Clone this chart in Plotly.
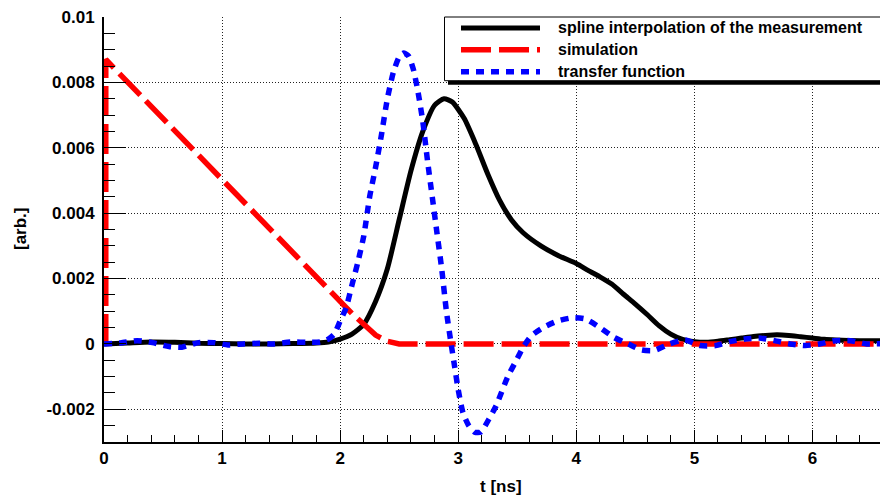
import plotly.graph_objects as go

# ---------------- data ----------------
t_meas = [0.0, 0.2, 0.4, 0.6, 0.8, 1.0, 1.2, 1.4, 1.6, 1.8, 1.9, 2.0, 2.1, 2.2, 2.3, 2.4,
          2.5, 2.6, 2.7, 2.8, 2.88, 2.95, 3.05, 3.15, 3.25, 3.35, 3.45, 3.55, 3.7, 3.85,
          4.0, 4.1, 4.2, 4.3, 4.4, 4.5, 4.6, 4.7, 4.8, 4.9, 5.0, 5.1, 5.2, 5.3, 5.4, 5.5,
          5.6, 5.7, 5.8, 5.9, 6.0, 6.1, 6.2, 6.4, 6.65]
v_meas = [0.0, 0.00003, 0.00006, 0.00005, 0.00002, 0.00001, 0.0, 0.0, 0.00001, 0.00003,
          0.00006, 0.00015, 0.0003, 0.0006, 0.0013, 0.0023, 0.0038, 0.0053, 0.0065, 0.0073,
          0.0075, 0.0074, 0.0069, 0.0061, 0.0052, 0.0044, 0.0038, 0.0034, 0.0030, 0.0027,
          0.00246, 0.00225, 0.00205, 0.00183, 0.00152, 0.00122, 0.0009, 0.00056, 0.0003,
          0.00014, 0.00007, 0.00005, 0.00008, 0.00013, 0.00018, 0.00023, 0.00026, 0.00028,
          0.00026, 0.00022, 0.00018, 0.00014, 0.00012, 0.0001, 0.0001]

t_sim = [0.015, 0.015, 2.1, 2.2, 2.3, 2.4, 2.5, 6.65]
v_sim = [0.0, 0.0087, 0.00093, 0.00058, 0.00027, 0.00008, 0.0, 0.0]

t_tf = [0.0, 0.14, 0.28, 0.41, 0.55, 0.66, 0.80, 0.93, 1.05, 1.18, 1.31, 1.44, 1.58, 1.71,
        1.83, 1.9, 1.95, 2.0, 2.05, 2.1, 2.15, 2.2, 2.25, 2.3, 2.35, 2.4, 2.45, 2.5, 2.54,
        2.58, 2.62, 2.66, 2.70, 2.74, 2.78, 2.82, 2.86, 2.90, 2.94, 2.97, 3.0, 3.04, 3.09,
        3.14, 3.19, 3.26, 3.32, 3.42, 3.5, 3.55, 3.62, 3.72, 3.84, 3.97, 4.08, 4.2, 4.32,
        4.44, 4.55, 4.66, 4.79, 4.92, 5.05, 5.18, 5.3, 5.43, 5.55, 5.68, 5.81, 5.94, 6.06,
        6.19, 6.32, 6.46, 6.65]
v_tf = [0.0, 0.00003, 0.0001, 0.00004, -0.00008, -0.0001, 0.00004, 0.00004, -0.00003, 0.0,
        0.00002, 0.0, 0.00006, 0.00005, 0.00006, 0.00015, 0.0003, 0.0007, 0.0011, 0.0018,
        0.0025, 0.0033, 0.0045, 0.0054, 0.0064, 0.0075, 0.0083, 0.00878, 0.0089, 0.0088,
        0.0084, 0.0077, 0.0068, 0.0056, 0.0045, 0.0034, 0.0023, 0.0010, 0.0, -0.0007,
        -0.0014, -0.0021, -0.0025, -0.0027, -0.0027, -0.0023, -0.0019, -0.001, -0.00045,
        -0.0001, 0.00025, 0.0005, 0.0007, 0.0008, 0.00076, 0.0005, 0.0002, 0.0, -0.00018,
        -0.0002, 0.0, 0.00012, -0.00005, -0.00005, 0.00007, 0.00015, 0.00018, 0.0001, 0.0,
        -0.00005, 0.0, 0.0001, 0.0001, 0.0, 0.00002]

y_tickvals = [-0.002, 0.0, 0.002, 0.004, 0.006, 0.008, 0.01]
y_ticktext = ["-0.002", "0", "0.002", "0.004", "0.006", "0.008", "0.01"]
x_tickvals = [0, 1, 2, 3, 4, 5, 6]
x_ticktext = ["0", "1", "2", "3", "4", "5", "6"]

names = ["spline interpolation of the measurement", "simulation", "transfer function"]
colors = ["#000000", "#ff0000", "#0000ff"]
dashes = ["solid", "30px,8px", "8px,7px"]
widths = [5, 5.5, 5.5]

FONT = "Liberation Sans, Arial, sans-serif"

fig = go.Figure()
fig.add_trace(go.Scatter(x=t_meas, y=v_meas, mode="lines", name=names[0], showlegend=False,
                         line=dict(color=colors[0], width=widths[0], dash=dashes[0],
                                   shape="spline", smoothing=0.6)))
fig.add_trace(go.Scatter(x=t_sim, y=v_sim, mode="lines", name=names[1], showlegend=False,
                         line=dict(color=colors[1], width=widths[1], dash=dashes[1])))
fig.add_trace(go.Scatter(x=t_tf, y=v_tf, mode="lines", name=names[2], showlegend=False,
                         line=dict(color=colors[2], width=widths[2], dash=dashes[2],
                                   shape="spline", smoothing=0.6)))

# page body has an 8px margin: the figure is drawn at offset (8, 8)
OFF = 8
W, H = 888 - OFF, 499 - OFF
L, R, T, B = 104 - OFF, 0, 15 - OFF, 57
pw, ph = W - L - R, H - T - B


def px(x_ref):
    return (x_ref - OFF - L) / pw


def py(y_ref):
    return (H - B - (y_ref - OFF)) / ph


# custom legend (ROOT style box with shadow)
shapes = [
    dict(type="rect", xref="paper", yref="paper", x0=px(448), x1=px(900), y0=py(83), y1=py(79),
         fillcolor="black", line=dict(width=0), layer="above"),
    dict(type="rect", xref="paper", yref="paper", x0=px(444.5), x1=px(900), y0=py(79), y1=py(15),
         fillcolor="white", line=dict(color="black", width=1), layer="above"),
]
row_y = [26, 48, 70]
annotations = []
for i in range(3):
    shapes.append(dict(type="line", xref="paper", yref="paper", x0=px(461), x1=px(540),
                       y0=py(row_y[i]), y1=py(row_y[i]), layer="above",
                       line=dict(color=colors[i], width=widths[i], dash=dashes[i])))
    annotations.append(dict(text=names[i], xref="paper", yref="paper", x=px(556), y=py(row_y[i]),
                            xanchor="left", yanchor="middle", showarrow=False,
                            font=dict(family=FONT, size=16, color="black", weight="bold")))

annotations.append(dict(text="t [ns]", xref="paper", yref="paper", x=px(500.5), y=py(487),
                        xanchor="center", yanchor="middle", showarrow=False,
                        font=dict(family=FONT, size=17, color="black", weight="bold")))
annotations.append(dict(text="[arb.]", xref="paper", yref="paper", x=px(20), y=py(228),
                        xanchor="center", yanchor="middle", showarrow=False, textangle=-90,
                        font=dict(family=FONT, size=17, color="black", weight="bold")))

axis_common = dict(
    showline=True, linecolor="black", linewidth=2, mirror=False,
    ticks="inside", tickcolor="black", tickwidth=1,
    showgrid=True, gridcolor="#222222", gridwidth=1, griddash="1px,2px",
    zeroline=False, tickmode="array", ticklabeloverflow="allow",
    tickfont=dict(family=FONT, size=17, color="black", weight="bold"),
)

fig.update_layout(
    width=W, height=H,
    margin=dict(l=L, r=R, t=T, b=B, pad=0),
    paper_bgcolor="white", plot_bgcolor="white",
    showlegend=False,
    shapes=shapes, annotations=annotations,
    xaxis=dict(range=[0, 6.64], tickvals=x_tickvals, ticktext=x_ticktext, ticklen=12,
               minor=dict(dtick=0.2, tick0=0, ticks="inside", ticklen=7, tickcolor="black",
                          tickwidth=1, showgrid=False),
               ticklabelstandoff=0, **axis_common),
    yaxis=dict(range=[-0.003, 0.01], tickvals=y_tickvals, ticktext=y_ticktext, ticklen=22,
               minor=dict(dtick=0.0005, tick0=0, ticks="inside", ticklen=11, tickcolor="black",
                          tickwidth=1, showgrid=False),
               ticklabelstandoff=4, **axis_common),
)

fig.write_html("out.html")
